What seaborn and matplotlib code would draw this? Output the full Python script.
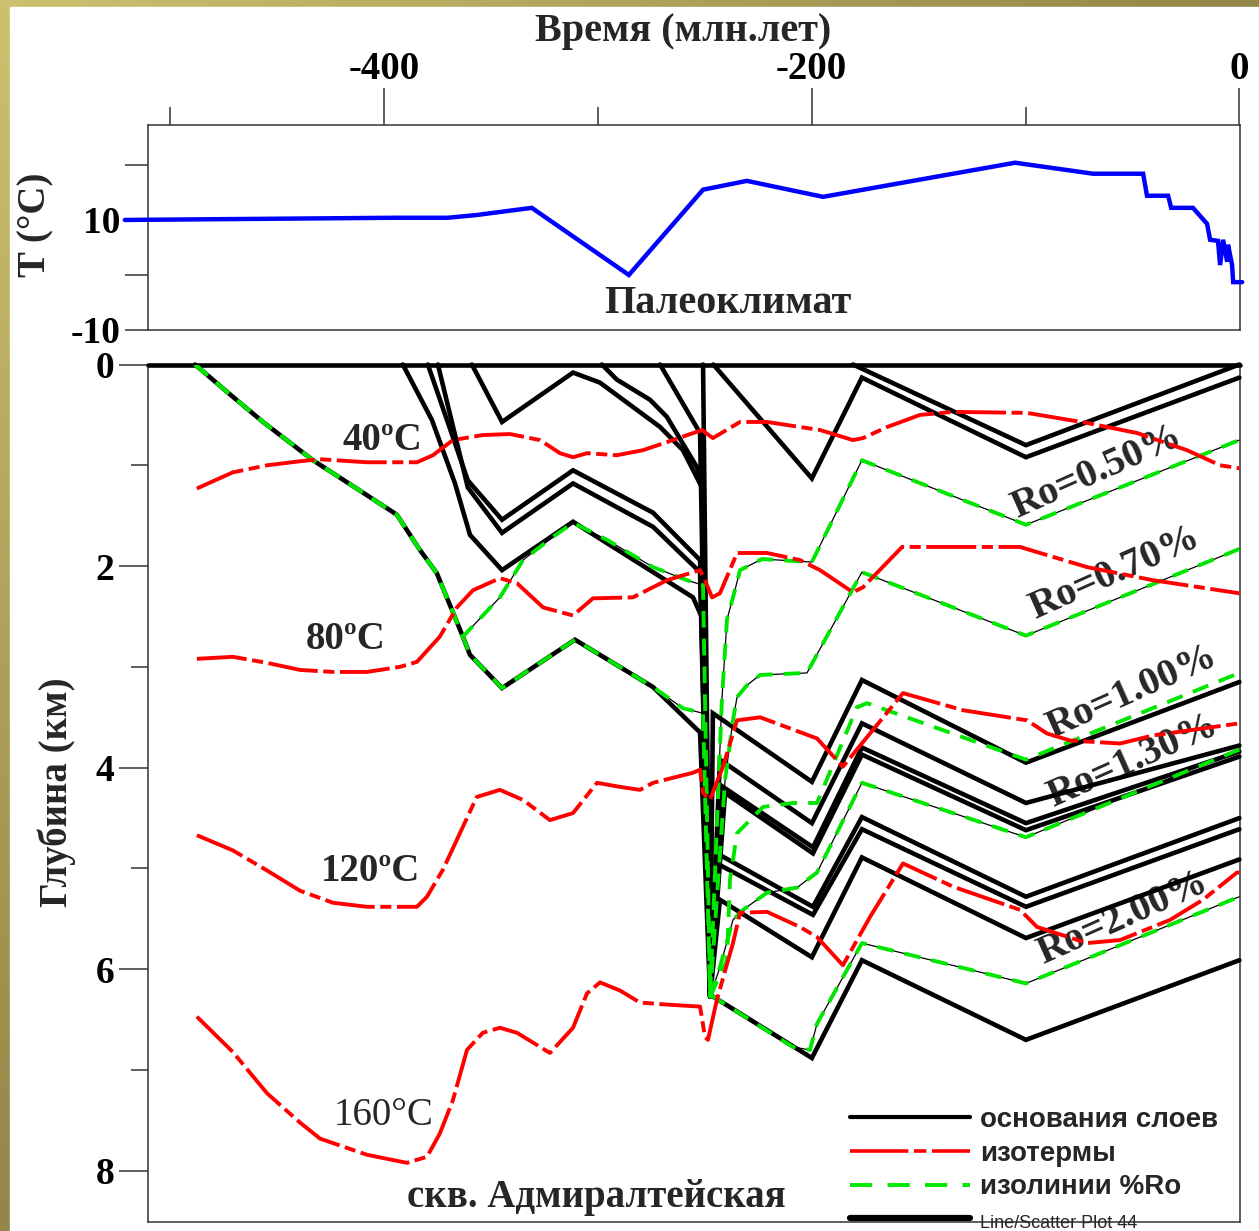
import numpy as np
import pandas as pd
import matplotlib
matplotlib.use("Agg")
import matplotlib.pyplot as plt
import seaborn as sns
from matplotlib.lines import Line2D
from matplotlib.patches import Rectangle

# ---------------- data ----------------
# paleoclimate (time Ma, surface temperature C)
clim_t = [-521.2, -394.0, -370.0, -356.6, -330.9, -285.5, -250.8, -230.3, -194.7, -104.9,
          -68.4, -45.0, -43.2, -33.3, -31.9, -21.7, -15.1, -13.7, -10.0, -9.0, -7.6, -5.7,
          -5.3, -3.4, -2.9, 1.3]
clim_T = [10.0, 10.4, 10.4, 10.9, 12.2, 0.0, 15.5, 17.1, 14.2, 20.4,
          18.4, 18.4, 14.4, 14.4, 12.2, 12.2, 9.3, 6.4, 6.2, 1.8, 6.4, 2.4,
          5.5, 1.8, -1.3, -1.3]

# layer bases (time Ma, depth km)
base_surf_t = [-510.5, 0.3]
base_surf_d = [0.0, 0.0]
base_g_t = [-270.9, -252.2, -247.5, -246.2, -199.9, -176.5, -99.8, 0.0]
base_g_d = [0.0, 0.68, 6.27, 3.46, 4.14, 3.13, 3.95, 3.15]
base_f_t = [-298.1, -291.1, -275.6, -267.7, -253.6, -251.3, -247.5, -242.9, -199.9, -176.5, -99.8, 0.0]
base_f_d = [0.0, 0.15, 0.35, 0.52, 1.02, 1.18, 6.27, 3.92, 4.55, 3.56, 4.35, 3.78]
base_a_t = [-358.9, -344.8, -311.6, -299.0, -270.9, -260.2, -251.3, -247.5, -241.5, -199.4, -176.5, -99.8, 0.0]
base_a_d = [0.0, 0.57, 0.08, 0.18, 0.62, 0.85, 1.22, 6.27, 4.19, 4.79, 3.80, 4.55, 3.84]
base_b_t = [-379.5, -360.8, -344.8, -311.6, -274.2, -252.2, -247.5, -240.5, -199.4, -176.5, -99.8, 0.0]
base_b_d = [0.0, 1.15, 1.54, 1.05, 1.47, 1.94, 6.27, 4.25, 4.85, 3.87, 4.62, 3.89]
base_c_t = [-374.8, -360.8, -344.8, -311.6, -274.2, -252.2, -247.5, -244.3, -199.4, -176.5, -99.8, 0.0]
base_c_d = [0.0, 1.22, 1.67, 1.18, 1.61, 2.06, 6.27, 4.85, 5.38, 4.49, 5.28, 4.50]
base_d_t = [-391.2, -377.6, -366.8, -359.8, -344.8, -311.6, -255.5, -251.3, -247.5, -244.3, -199.4, -176.5, -99.8, 0.0]
base_d_d = [0.0, 0.55, 1.18, 1.69, 2.04, 1.56, 2.31, 2.51, 6.27, 4.95, 5.46, 4.61, 5.38, 4.61]
base_r7_t = [-250.8, -247.5, -242.9, -199.9, -176.5, -99.8, 0.0]
base_r7_d = [0.0, 6.27, 5.31, 5.88, 4.89, 5.69, 4.91]
base_l1_t = [-488.4, -470.7, -456.6, -433.2, -409.9, -394.0, -383.2, -375.3, -363.1, -359.8, -344.8,
             -310.7, -274.2, -252.2, -247.5, -246.2, -199.9, -176.5, -99.8, 0.0]
base_l1_d = [0.0, 0.32, 0.57, 0.95, 1.27, 1.49, 1.84, 2.07, 2.70, 2.88, 3.21,
             2.73, 3.20, 3.65, 6.27, 6.27, 6.88, 5.91, 6.70, 5.91]
base_s1_t = [-246.0, -199.9, -176.5, -99.8, 0.0]
base_s1_d = [0.0, 1.13, 0.13, 0.92, 0.13]
base_s0_t = [-180.7, -99.8, 0.0]
base_s0_d = [0.0, 0.80, 0.0]

# vitrinite reflectance isolines
ro050_t = [-488.4, -470.7, -456.6, -433.2, -409.9, -394.0, -383.2, -375.3, -363.1, -345.8, -335.0,
           -321.0, -311.6, -295.7, -274.2, -258.3, -250.8, -247.5, -242.0, -239.6, -235.9, -233.5,
           -223.2, -199.9, -176.5, -99.8, 0.0]
ro050_d = [0.0, 0.32, 0.57, 0.95, 1.27, 1.49, 1.84, 2.07, 2.70, 2.31, 1.94,
           1.71, 1.57, 1.74, 2.01, 2.14, 2.19, 6.27, 3.33, 2.53, 2.24, 2.04,
           1.93, 1.96, 0.95, 1.59, 0.75]
ro070_t = [-488.4, -470.7, -456.6, -433.2, -409.9, -394.0, -383.2, -375.3, -363.1, -359.8, -344.8,
           -310.7, -274.2, -260.2, -250.8, -247.5, -240.5, -236.8, -234.9, -230.2, -224.1, -202.2,
           -197.1, -176.5, -99.8, 0.0]
ro070_d = [0.0, 0.32, 0.57, 0.95, 1.27, 1.49, 1.84, 2.07, 2.70, 2.88, 3.21,
           2.73, 3.20, 3.41, 3.46, 6.27, 4.12, 3.53, 3.30, 3.18, 3.08, 3.06,
           2.86, 2.06, 2.69, 1.83]
ro100_t = [-247.5, -239.6, -238.2, -234.9, -228.8, -222.8, -208.8, -197.5, -178.8, -174.1, -99.8, 0.0]
ro100_d = [6.27, 5.91, 5.11, 4.65, 4.52, 4.39, 4.35, 4.35, 3.40, 3.36, 3.92, 3.06]
ro130_t = [-247.5, -242.9, -236.8, -232.1, -220.9, -206.9, -197.5, -176.5, -99.8, 0.0]
ro130_d = [6.27, 5.98, 5.51, 5.41, 5.24, 5.19, 5.04, 4.15, 4.69, 3.82]
ro200_t = [-247.5, -246.2, -208.8, -200.8, -197.5, -176.5, -99.8, 0.0]
ro200_d = [6.27, 6.27, 6.77, 6.80, 6.54, 5.74, 6.14, 5.28]

# isotherms
iso40_t = [-487.5, -470.7, -454.7, -439.3, -429.9, -408.0, -384.6, -377.1, -367.8, -353.8, -341.1,
           -327.0, -317.7, -311.6, -305.1, -291.1, -278.9, -267.7, -251.3, -246.2, -233.5, -220.9,
           -205.5, -196.1, -180.7, -176.0, -164.7, -149.3, -133.9, -99.3, -71.2, -47.8, -24.5, -9.0, 0.0]
iso40_d = [1.23, 1.07, 1.00, 0.96, 0.94, 0.97, 0.97, 0.90, 0.75, 0.70, 0.69,
           0.75, 0.88, 0.92, 0.88, 0.90, 0.85, 0.77, 0.65, 0.73, 0.57, 0.57,
           0.62, 0.65, 0.75, 0.73, 0.62, 0.50, 0.47, 0.48, 0.58, 0.68, 0.85, 1.00, 1.03]
iso80_t = [-487.5, -470.7, -454.7, -439.3, -423.9, -408.0, -392.6, -384.6, -373.9, -365.9, -358.4,
           -345.8, -337.8, -325.6, -311.6, -302.3, -283.6, -267.7, -252.2, -249.9, -246.6, -242.9,
           -234.9, -220.9, -205.5, -196.1, -180.7, -176.0, -157.7, -102.6, -71.2, -40.4, 0.0]
iso80_d = [2.92, 2.90, 2.96, 3.03, 3.05, 3.05, 3.00, 2.95, 2.70, 2.41, 2.24,
           2.12, 2.17, 2.41, 2.49, 2.32, 2.31, 2.14, 2.04, 2.14, 2.31, 2.27,
           1.87, 1.87, 1.94, 2.04, 2.26, 2.21, 1.81, 1.81, 2.01, 2.14, 2.27]
iso120_t = [-487.5, -470.7, -454.7, -439.3, -423.9, -408.0, -392.6, -384.6, -379.9, -372.4, -364.5,
            -356.6, -345.8, -335.0, -322.4, -311.6, -300.4, -289.7, -280.3, -274.2, -255.5, -252.2,
            -250.8, -247.6, -241.5, -234.9, -224.1, -197.5, -185.4, -157.3, -129.2, -99.3, -90.0,
            -79.2, -55.8, -40.4, 0.0]
iso120_d = [4.67, 4.82, 5.02, 5.22, 5.34, 5.38, 5.38, 5.38, 5.28, 5.01, 4.65,
            4.29, 4.22, 4.32, 4.52, 4.45, 4.15, 4.19, 4.22, 4.15, 4.05, 4.02,
            4.25, 4.32, 3.99, 3.53, 3.50, 3.71, 3.99, 3.26, 3.43, 3.53, 3.66,
            3.73, 3.76, 3.68, 3.56]
iso160_t = [-487.5, -470.7, -454.7, -439.3, -429.9, -408.0, -389.3, -379.9, -373.9, -367.8, -361.2,
            -353.8, -345.8, -337.8, -322.4, -311.6, -305.1, -299.0, -289.7, -280.3, -267.7, -252.2,
            -249.9, -248.5, -244.3, -236.8, -233.5, -220.9, -205.5, -197.5, -185.4, -172.7, -157.3,
            -133.9, -102.6, -94.6, -71.2, -55.8, -32.4, -17.0, -1.1, 0.0]
iso160_d = [6.47, 6.82, 7.23, 7.52, 7.68, 7.84, 7.92, 7.86, 7.63, 7.30, 6.80,
            6.63, 6.58, 6.63, 6.83, 6.58, 6.24, 6.13, 6.21, 6.33, 6.35, 6.37,
            6.67, 6.70, 6.30, 5.74, 5.44, 5.43, 5.58, 5.68, 5.96, 5.48, 4.95,
            5.18, 5.41, 5.58, 5.74, 5.71, 5.51, 5.31, 5.04, 5.04]

x_ticks_major = [-400, -200, 0]
x_ticks_minor = [-500, -300, -100]
t_ticks = [-10, 0, 10, 20]
t_tick_labels = ['-10', '', '10', '']
d_ticks_major = [0, 2, 4, 6, 8]
d_ticks_minor = [1, 3, 5, 7]
legend_labels = ['основания слоев', 'изотермы', 'изолинии %Ro', 'Line/Scatter Plot 44']

# ---------------- style ----------------
sns.set_style("ticks")
plt.rcParams['font.family'] = ['Liberation Serif', 'DejaVu Serif']
plt.rcParams['font.weight'] = 'bold'
plt.rcParams['lines.scale_dashes'] = False
plt.rcParams['lines.solid_joinstyle'] = 'miter'
plt.rcParams['axes.linewidth'] = 1.1
plt.rcParams['axes.edgecolor'] = '#333333'
plt.rcParams['xtick.color'] = '#333333'
plt.rcParams['ytick.color'] = '#333333'
plt.rcParams['xtick.labelcolor'] = 'black'
plt.rcParams['ytick.labelcolor'] = 'black'

W, H = 1259, 1231
fig = plt.figure(figsize=(W / 100, H / 100), dpi=100)

# background frame (gradient strips on left and top)
bg = fig.add_axes([0, 0, 1, 1], zorder=-10)
yy, xx = np.mgrid[0:H:4, 0:W:4]
s = np.clip(xx / W + yy / H, 0, 1)[..., None]
light = np.array([203, 193, 110]) / 255
dark = np.array([146, 134, 72]) / 255
bg.imshow(light * (1 - s) + dark * s, extent=[0, W, H, 0], aspect='auto')
bg.add_patch(Rectangle((10, 7), W, H, color='white'))
bg.set_xlim(0, W)
bg.set_ylim(H, 0)
bg.axis('off')

L, R = 147.7, 1240.0
ax_top = fig.add_axes([L / W, 1 - 330 / H, (R - L) / W, (330 - 125.3) / H])
ax_bot = fig.add_axes([L / W, 1 - 1221.7 / H, (R - L) / W, (1221.7 - 364.5) / H])


def draw(ax, lines, **kw):
    frames = [pd.DataFrame({'t': t, 'v': v, 'line': i}) for i, (t, v) in enumerate(lines)]
    df = pd.concat(frames, ignore_index=True)
    sns.lineplot(data=df, x='t', y='v', units='line', estimator=None, sort=False,
                 ax=ax, legend=False, **kw)


# ---- top panel ----
draw(ax_top, [(clim_t, clim_T)], color='#0000ff', lw=3.2, clip_on=False, zorder=3)
ax_top.set_xlim(-510.5, 0.3)
ax_top.set_ylim(-10, 27.2)
ax_top.set_xlabel('')
ax_top.set_ylabel('')
ax_top.xaxis.set_ticks_position('top')
ax_top.set_xticks(x_ticks_major)
ax_top.set_xticklabels([str(v) for v in x_ticks_major])
ax_top.set_xticks(x_ticks_minor, minor=True)
ax_top.tick_params(axis='x', which='major', length=26.6, width=1.1, pad=0.5, labelsize=28,
                   top=True, bottom=False, labeltop=True, labelbottom=False, direction='out')
ax_top.tick_params(axis='x', which='minor', length=13, width=1.1, top=True, bottom=False,
                   direction='out')
ax_top.set_yticks(t_ticks)
ax_top.set_yticklabels(t_tick_labels)
ax_top.tick_params(axis='y', length=16.5, width=1.1, pad=3, labelsize=27, left=True,
                   right=False, direction='out')
ax_top.text(-239.1, -5.1, 'Палеоклимат', ha='center', va='center', fontsize=29)

# ---- bottom panel ----
ro_thin = [(ro050_t, ro050_d), (ro070_t, ro070_d), (ro130_t, ro130_d), (ro200_t, ro200_d)]
ro_all = ro_thin + [(ro100_t, ro100_d)]
bases = [(base_surf_t, base_surf_d), (base_g_t, base_g_d), (base_f_t, base_f_d),
         (base_a_t, base_a_d), (base_b_t, base_b_d), (base_c_t, base_c_d),
         (base_d_t, base_d_d), (base_r7_t, base_r7_d), (base_l1_t, base_l1_d),
         (base_s1_t, base_s1_d), (base_s0_t, base_s0_d)]
isos = [(iso40_t, iso40_d), (iso80_t, iso80_d), (iso120_t, iso120_d), (iso160_t, iso160_d)]

green = '#00e600'
red_ls = (0, (36, 4, 8, 4))
green_ls = (0, (12, 8))

draw(ax_bot, ro_thin, color='black', lw=0.9, zorder=2)
draw(ax_bot, bases, color='black', lw=3.3, zorder=3, clip_on=False)
draw(ax_bot, ro_all, color=green, lw=2.8, linestyle=green_ls, zorder=4)
draw(ax_bot, isos, color='#ff0000', lw=2.8, linestyle=red_ls, zorder=5)

ax_bot.set_xlim(-510.5, 0.3)
ax_bot.set_ylim(8.504, 0)
ax_bot.set_xlabel('')
ax_bot.set_ylabel('')
ax_bot.set_xticks([])
ax_bot.set_yticks(d_ticks_major)
ax_bot.set_yticklabels([str(v) for v in d_ticks_major])
ax_bot.set_yticks(d_ticks_minor, minor=True)
ax_bot.tick_params(axis='y', which='major', length=21, width=1.1, pad=3, labelsize=27,
                   left=True, right=False, direction='out')
ax_bot.tick_params(axis='y', which='minor', length=12, width=1.1, left=True, right=False,
                   direction='out')

# isotherm labels
ax_bot.text(-400.5, 0.75, '40ºC', ha='center', va='center', fontsize=28, zorder=1)
ax_bot.text(-417.8, 2.73, '80ºC', ha='center', va='center', fontsize=28, zorder=1)
ax_bot.text(-406.1, 5.03, '120ºC', ha='center', va='center', fontsize=28, zorder=1)
ax_bot.text(-400.0, 7.45, '160°C', ha='center', va='center', fontsize=28,
            fontweight='normal', zorder=1)
# Ro labels
for (tx, dy, lab) in [(-66.5, 1.07, 'Ro=0.50%'), (-58.1, 2.07, 'Ro=0.70%'),
                      (-50.2, 3.25, 'Ro=1.00%'), (-49.7, 3.94, 'Ro=1.30%'),
                      (-54.4, 5.49, 'Ro=2.00%')]:
    ax_bot.text(tx, dy, lab, ha='center', va='center', fontsize=29, rotation=24,
                rotation_mode='anchor', zorder=1)
ax_bot.text(-300.9, 8.26, 'скв. Адмиралтейская', ha='center', va='center', fontsize=28, zorder=1)

# legend
handles = [Line2D([], [], color='black', lw=3.0),
           Line2D([], [], color='#ff0000', lw=2.6, linestyle=(0, (42, 4, 9, 4))),
           Line2D([], [], color=green, lw=2.8, linestyle=(0, (16, 11))),
           Line2D([], [], color='black', lw=4.5)]
leg = ax_bot.legend(handles, legend_labels, loc='upper left', bbox_to_anchor=(0.643, 0.134),
                    frameon=False, prop={'family': 'Liberation Sans', 'weight': 'bold', 'size': 20},
                    handlelength=4.32, handletextpad=0.36, labelspacing=0.28, borderpad=0,
                    borderaxespad=0)
leg.get_texts()[3].set_fontweight('normal')
leg.get_texts()[3].set_fontsize(13)

# axis titles
fig.text(683 / W, 1 - 32 / H, 'Время (млн.лет)', ha='center', va='center', fontsize=29)
fig.text(36 / W, 1 - 225 / H, 'T (°C)', ha='center', va='center', fontsize=28, rotation=90)
fig.text(57 / W, 1 - 792 / H, 'Глубина (км)', ha='center', va='center', fontsize=28, rotation=90)

fig.savefig('out.png', dpi=100)
